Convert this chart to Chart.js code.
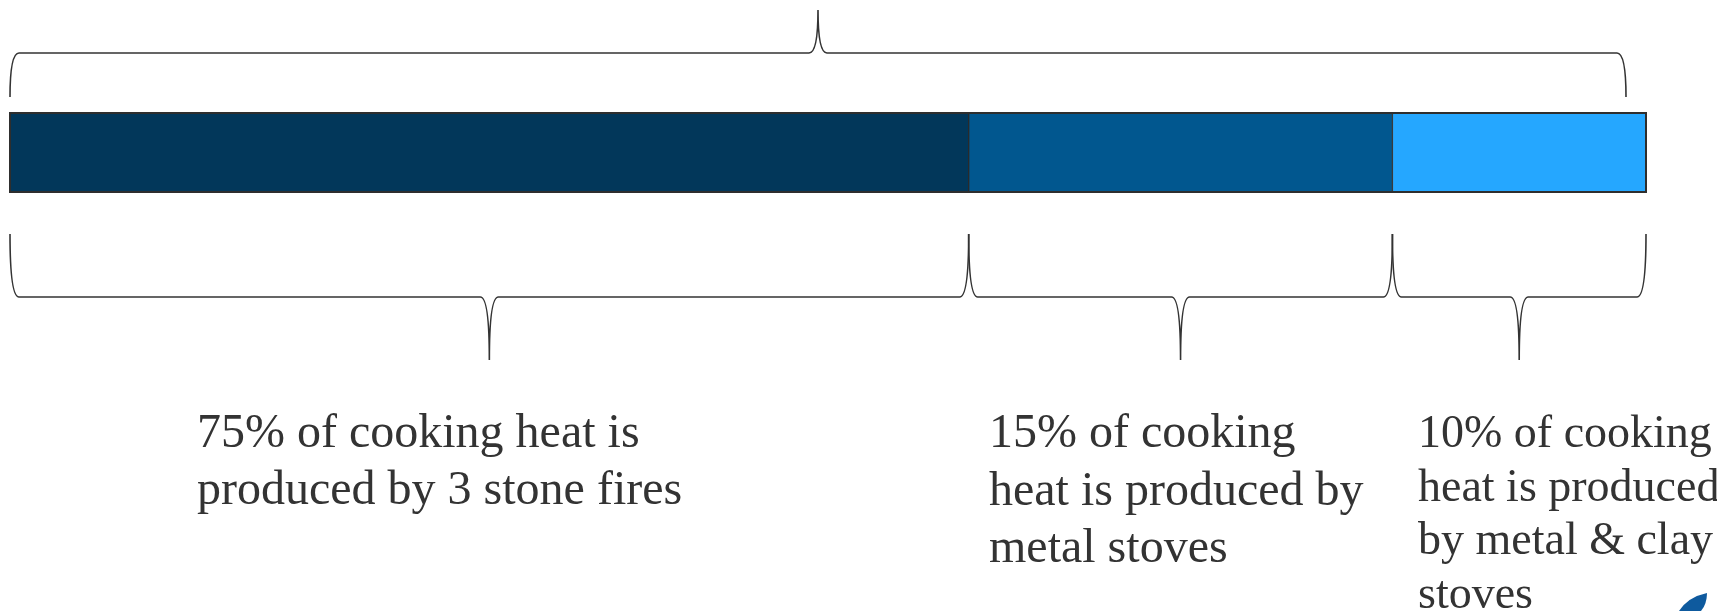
<!DOCTYPE html>
<html>
<head>
<meta charset="utf-8">
<script src="https://cdn.jsdelivr.net/npm/chart.js@4.4.1/dist/chart.umd.min.js"></script>
<style>
	html, body { margin: 0; padding: 0; background: #fff; overflow: hidden; }
</style>
</head>
<body>
<canvas id="chart" width="1717" height="611"></canvas>
<script>
// data
const categories = ['Cooking heat'];
const sourceNames = ['3 stone fires', 'Metal stoves', 'Metal & clay stoves'];
const segmentValues = [58.6, 25.9, 15.5]; // segment widths as drawn in the bar
const sharePercents = [75, 15, 10];       // shares written in the labels
const labelLines = [
	[`${sharePercents[0]}% of cooking heat is`, 'produced by 3 stone fires'],
	[`${sharePercents[1]}% of cooking`, 'heat is produced by', 'metal stoves'],
	[`${sharePercents[2]}% of cooking`, 'heat is produced', 'by metal & clay', 'stoves']
];

const segmentColors = ['#02375a', '#01578f', '#25a7ff'];
const inkColor = '#333333';

// label boxes: left x, first baseline, font size, line height
const labelBoxes = [
	{ x: 197, y: 447, size: 48, lh: 57 },
	{ x: 989, y: 447, size: 48, lh: 57.5 },
	{ x: 1418, y: 447, size: 46, lh: 53.5 }
];

// curly brace, ends at yEnd, flat part at yMid, point at yTip
const drawBrace = (ctx, x0, x1, yEnd, yMid, yTip, r) => {
	const mid = (x0 + x1) / 2;
	ctx.beginPath();
	ctx.moveTo(x0, yEnd);
	ctx.quadraticCurveTo(x0, yMid, x0 + r, yMid);
	ctx.lineTo(mid - r, yMid);
	ctx.quadraticCurveTo(mid, yMid, mid, yTip);
	ctx.quadraticCurveTo(mid, yMid, mid + r, yMid);
	ctx.lineTo(x1 - r, yMid);
	ctx.quadraticCurveTo(x1, yMid, x1, yEnd);
	ctx.stroke();
};

const bracesPlugin = {
	id: 'braces',
	afterDatasetsDraw(chart) {
		const { ctx, chartArea, scales } = chart;
		const xs = scales.x;

		ctx.save();

		// outline round the whole bar
		ctx.strokeStyle = '#2e2e2e';
		ctx.lineWidth = 2;
		ctx.strokeRect(chartArea.left, chartArea.top, chartArea.right - chartArea.left, chartArea.bottom - chartArea.top);

		ctx.strokeStyle = inkColor;
		ctx.lineWidth = 1.6;

		// top brace over the bar
		drawBrace(ctx, chartArea.left, chartArea.right - 20, chartArea.top - 16, chartArea.top - 60, chartArea.top - 103, 9);

		// one brace under each segment
		let start = 0;
		segmentValues.forEach((v) => {
			const x0 = xs.getPixelForValue(start);
			const x1 = xs.getPixelForValue(start + v);
			drawBrace(ctx, x0, x1, chartArea.bottom + 42, chartArea.bottom + 105, chartArea.bottom + 168, 9);
			start += v;
		});

		// labels
		ctx.fillStyle = inkColor;
		ctx.textBaseline = 'alphabetic';
		ctx.textAlign = 'left';
		labelLines.forEach((lines, i) => {
			const box = labelBoxes[i];
			ctx.font = `${box.size}px "Liberation Serif", "Times New Roman", serif`;
			lines.forEach((line, j) => {
				ctx.fillText(line, box.x, box.y + j * box.lh);
			});
		});

		// bit of logo in the corner
		ctx.fillStyle = '#0e5a9e';
		ctx.beginPath();
		ctx.moveTo(1679, 611);
		ctx.quadraticCurveTo(1688, 597, 1707, 593);
		ctx.quadraticCurveTo(1707, 604, 1701, 611);
		ctx.closePath();
		ctx.fill();

		ctx.restore();
	}
};

document.addEventListener('DOMContentLoaded', () => {
	const total = segmentValues.reduce((a, b) => a + b, 0);

	new Chart(document.getElementById('chart'), {
		type: 'bar',
		data: {
			labels: categories,
			datasets: segmentValues.map((v, i) => ({
				label: sourceNames[i],
				data: [v],
				backgroundColor: segmentColors[i],
				borderColor: '#2b2b2b',
				borderWidth: 1,
				borderSkipped: false,
				barPercentage: 1,
				categoryPercentage: 1
			}))
		},
		options: {
			indexAxis: 'y',
			responsive: false,
			animation: false,
			layout: {
				padding: { left: 10, right: 71, top: 113, bottom: 419 }
			},
			scales: {
				x: { stacked: true, min: 0, max: total, display: false },
				y: { stacked: true, display: false }
			},
			plugins: {
				legend: { display: false },
				tooltip: { enabled: false }
			}
		},
		plugins: [bracesPlugin]
	});
});
</script>
</body>
</html>
